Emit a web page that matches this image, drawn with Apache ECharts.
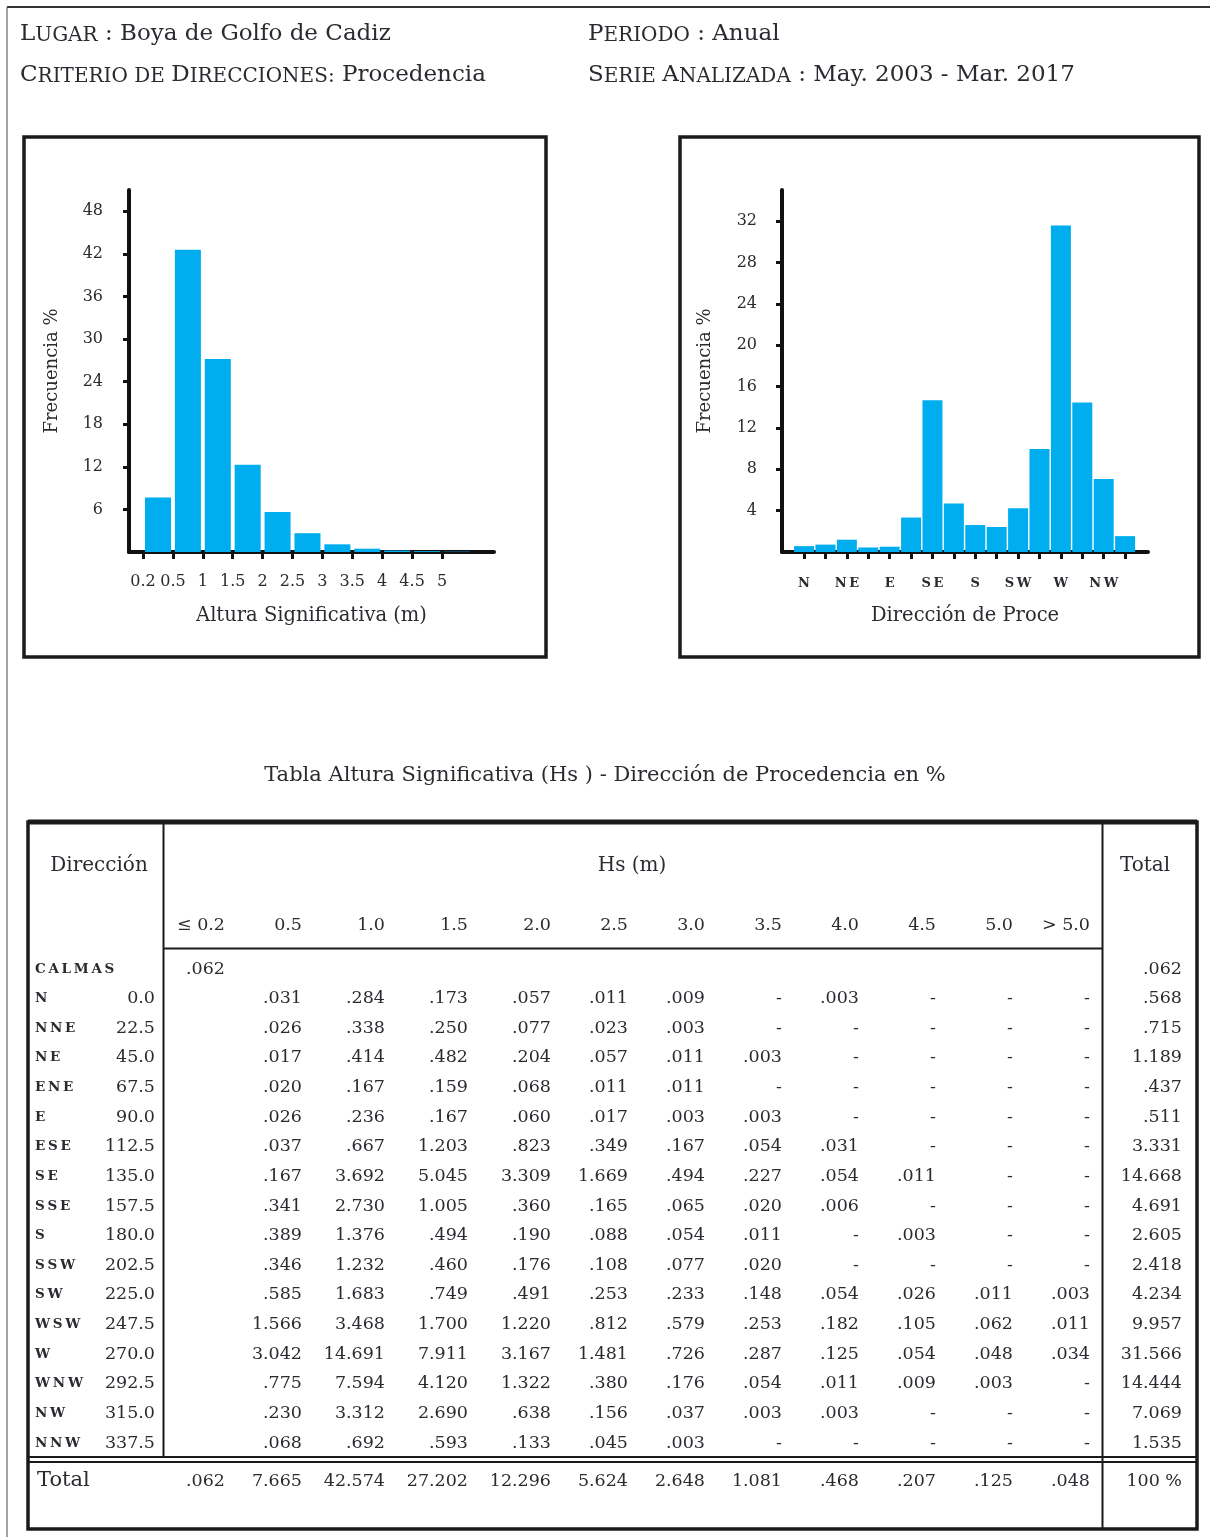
<!DOCTYPE html>
<html><head><meta charset="utf-8">
<script src="https://cdn.jsdelivr.net/npm/echarts@6/dist/echarts.min.js"></script>
<style>html,body{margin:0;padding:0;background:#fff}#c{width:1210px;height:1537px}</style>
</head><body><div id="c"></div>
<script>
// ---------------- DATA ----------------
const hsClassLabels = ['≤ 0.2','0.5','1.0','1.5','2.0','2.5','3.0','3.5','4.0','4.5','5.0','> 5.0'];
const hsTickLabels = ['0.2','0.5','1','1.5','2','2.5','3','3.5','4','4.5','5'];
const histYTicks = [6,12,18,24,30,36,42,48];
const dirNames = ['N','NNE','NE','ENE','E','ESE','SE','SSE','S','SSW','SW','WSW','W','WNW','NW','NNW'];
const dirAngles = ['0.0','22.5','45.0','67.5','90.0','112.5','135.0','157.5','180.0','202.5','225.0','247.5','270.0','292.5','315.0','337.5'];
const dirTickLabels = ['N','','NE','','E','','SE','','S','','SW','','W','','NW',''];
const dirYTicks = [4,8,12,16,20,24,28,32];
const calmasValue = 0.062;
// cells for classes 0.5 .. > 5.0 (0 printed as '-')
const rowN   = [.031,.284,.173,.057,.011,.009,0,.003,0,0,0];
const rowNNE = [.026,.338,.250,.077,.023,.003,0,0,0,0,0];
const rowNE  = [.017,.414,.482,.204,.057,.011,.003,0,0,0,0];
const rowENE = [.020,.167,.159,.068,.011,.011,0,0,0,0,0];
const rowE   = [.026,.236,.167,.060,.017,.003,.003,0,0,0,0];
const rowESE = [.037,.667,1.203,.823,.349,.167,.054,.031,0,0,0];
const rowSE  = [.167,3.692,5.045,3.309,1.669,.494,.227,.054,.011,0,0];
const rowSSE = [.341,2.730,1.005,.360,.165,.065,.020,.006,0,0,0];
const rowS   = [.389,1.376,.494,.190,.088,.054,.011,0,.003,0,0];
const rowSSW = [.346,1.232,.460,.176,.108,.077,.020,0,0,0,0];
const rowSW  = [.585,1.683,.749,.491,.253,.233,.148,.054,.026,.011,.003];
const rowWSW = [1.566,3.468,1.700,1.220,.812,.579,.253,.182,.105,.062,.011];
const rowW   = [3.042,14.691,7.911,3.167,1.481,.726,.287,.125,.054,.048,.034];
const rowWNW = [.775,7.594,4.120,1.322,.380,.176,.054,.011,.009,.003,0];
const rowNW  = [.230,3.312,2.690,.638,.156,.037,.003,.003,0,0,0];
const rowNNW = [.068,.692,.593,.133,.045,.003,0,0,0,0,0];
const dirTotals = [.568,.715,1.189,.437,.511,3.331,14.668,4.691,2.605,2.418,4.234,9.957,31.566,14.444,7.069,1.535];
const hsTotals = [.062,7.665,42.574,27.202,12.296,5.624,2.648,1.081,.468,.207,.125,.048];

const tableRows = [rowN,rowNNE,rowNE,rowENE,rowE,rowESE,rowSE,rowSSE,rowS,rowSSW,rowSW,rowWSW,rowW,rowWNW,rowNW,rowNNW];

// ---------------- STYLE / LAYOUT ----------------
const FONT = "'DejaVu Serif','Liberation Serif',serif";
const INK = '#2b2a30';
const BAR = '#00AEEF';
const NUM = 17.5;
const fmt = v => v === 0 ? '-' : (v < 1 ? v.toFixed(3).slice(1) : v.toFixed(3));
const spaced = s => s.split('').join('\u2009');

// column right edges (LaTeX-like: wider pitch for columns holding 6-char entries)
const colRight = [];
(function(){
  let x = 225; colRight.push(x);
  for (let j = 1; j < hsClassLabels.length; j++) {
    let maxLen = fmt(hsTotals[j]).length;
    tableRows.forEach(r => { maxLen = Math.max(maxLen, fmt(r[j-1]).length); });
    x += maxLen >= 6 ? 83 : 77;
    colRight.push(x);
  }
})();
const totalRight = 1182;
const rowY0 = 969, rowStep = 29.625;

const G = [];
function txt(x, y, text, opt) {
  opt = opt || {};
  G.push({type:'text', x, y, z: 10, style: Object.assign({
    text, fill: INK, fontFamily: FONT, fontSize: opt.size || 20,
    fontWeight: opt.weight || 'normal',
    align: opt.align || 'left', verticalAlign: 'middle'
  }, opt.rich ? {rich: opt.rich} : {})});
}
function line(x1, y1, x2, y2, w, c) {
  G.push({type:'line', z: 5, shape:{x1,y1,x2,y2}, style:{stroke: c || '#1a1a1a', lineWidth: w}});
}
function rect(x, y, w, h, lw) {
  G.push({type:'rect', z: 5, shape:{x, y, width:w, height:h}, style:{fill:'none', stroke:'#1a1a1a', lineWidth: lw}});
}

// page frame
line(7, 7, 1210, 7, 2, '#333');
line(7, 7, 7, 1537, 1.2, '#666');

// header (small caps via rich text)
const rich = {
  c: {fontSize: 23, fontFamily: FONT, fill: INK, verticalAlign: 'bottom'},
  s: {fontSize: 20, fontFamily: FONT, fill: INK, verticalAlign: 'bottom'}
};
txt(20, 34, '{c|L}{s|UGAR}{c| : Boya de Golfo de Cadiz}', {rich});
txt(20, 75, '{c|C}{s|RITERIO DE }{c|D}{s|IRECCIONES:}{c| Procedencia}', {rich});
txt(588, 34, '{c|P}{s|ERIODO}{c| : Anual}', {rich});
txt(588, 75, '{c|S}{s|ERIE }{c|A}{s|NALIZADA}{c| : May. 2003 - Mar. 2017}', {rich});

// chart boxes
rect(24, 137, 522, 520, 3.5);
rect(680, 137, 519, 520, 3.5);

// table title
txt(605, 776, 'Tabla Altura Significativa (Hs ) - Dirección de Procedencia en %', {size: 21, align: 'center'});

// table frame
rect(28, 822, 1169, 707, 3.5);
line(28, 822, 1197, 822, 5);
line(163.5, 823, 163.5, 1457, 2);
line(1102.5, 823, 1102.5, 1529, 2);
line(163, 948.5, 1102, 948.5, 2);
line(28, 1457, 1197, 1457, 1.8);
line(28, 1462, 1197, 1462, 1.8);

// table headers
txt(99, 866, 'Dirección', {size: 20, align: 'center'});
txt(632, 866, 'Hs (m)', {size: 20, align: 'center'});
txt(1145, 866, 'Total', {size: 20, align: 'center'});
hsClassLabels.forEach((l, j) => txt(colRight[j], 925, l, {size: NUM, align: 'right'}));

// calmas row
txt(35, rowY0, spaced('CALMAS'), {size: 13.5, weight: 'bold'});
txt(colRight[0], rowY0, fmt(calmasValue), {size: NUM, align: 'right'});
txt(totalRight, rowY0, fmt(calmasValue), {size: NUM, align: 'right'});
// direction rows
tableRows.forEach((r, i) => {
  const y = rowY0 + (i + 1) * rowStep;
  txt(35, y, spaced(dirNames[i]), {size: 13.5, weight: 'bold'});
  txt(155, y, dirAngles[i], {size: NUM, align: 'right'});
  r.forEach((v, j) => txt(colRight[j + 1], y, fmt(v), {size: NUM, align: 'right'}));
  txt(totalRight, y, fmt(dirTotals[i]), {size: NUM, align: 'right'});
});
// total row
txt(37, 1481, 'Total', {size: 21});
hsTotals.forEach((v, j) => txt(colRight[j], 1481, fmt(v), {size: NUM, align: 'right'}));
txt(totalRight, 1481, '100 %', {size: NUM, align: 'right'});

// ---------------- CHARTS ----------------
const axisLineStyle = {show: true, onZero: false, lineStyle: {color: '#111', width: 4}};
const tickStyle = {color: '#111', width: 3};
const lblStyle = {fontFamily: FONT, color: INK};

const chart = echarts.init(document.getElementById('c'), null, {renderer: 'canvas'});
chart.setOption({
  animation: false,
  backgroundColor: '#fff',
  grid: [
    {left: 129, top: 190, width: 365, height: 362},
    {left: 782, top: 190, width: 366, height: 362}
  ],
  xAxis: [
    {
      type: 'value', gridIndex: 0, min: -0.47, max: 11.74,
      axisLine: axisLineStyle,
      axisTick: {show: true, customValues: hsTickLabels.map((_, i) => i), length: 7, lineStyle: tickStyle},
      axisLabel: Object.assign({customValues: hsTickLabels.map((_, i) => i), formatter: v => hsTickLabels[Math.round(v)], margin: 22, fontSize: 16}, lblStyle),
      splitLine: {show: false},
      name: 'Altura Significativa (m)', nameLocation: 'middle', nameGap: 54,
      nameTextStyle: {fontFamily: FONT, fontSize: 19.5, color: INK}
    },
    {
      type: 'value', gridIndex: 1, min: -1.03, max: 16.07,
      axisLine: axisLineStyle,
      axisTick: {show: true, customValues: dirNames.map((_, i) => i), length: 7, lineStyle: tickStyle},
      axisLabel: Object.assign({customValues: dirNames.map((_, i) => i).filter(i => dirTickLabels[i]), formatter: v => spaced(dirTickLabels[Math.round(v)]), margin: 25, fontSize: 13, fontWeight: 'bold'}, lblStyle),
      splitLine: {show: false},
      name: 'Dirección de Proce', nameLocation: 'middle', nameGap: 54,
      nameTextStyle: {fontFamily: FONT, fontSize: 19.5, color: INK}
    }
  ],
  yAxis: [
    {
      type: 'value', gridIndex: 0, min: 0, max: 51,
      axisLine: axisLineStyle,
      axisTick: {show: true, customValues: histYTicks, length: 6, lineStyle: tickStyle},
      axisLabel: Object.assign({customValues: histYTicks, margin: 26, fontSize: 16}, lblStyle),
      splitLine: {show: false},
      name: 'Frecuencia %', nameLocation: 'middle', nameGap: 68, nameRotate: 90,
      nameTextStyle: {fontFamily: FONT, fontSize: 18, color: INK}
    },
    {
      type: 'value', gridIndex: 1, min: 0, max: 35,
      axisLine: axisLineStyle,
      axisTick: {show: true, customValues: dirYTicks, length: 6, lineStyle: tickStyle},
      axisLabel: Object.assign({customValues: dirYTicks, margin: 25, fontSize: 16}, lblStyle),
      splitLine: {show: false},
      name: 'Frecuencia %', nameLocation: 'middle', nameGap: 68, nameRotate: 90,
      nameTextStyle: {fontFamily: FONT, fontSize: 18, color: INK}
    }
  ],
  series: [
    {
      type: 'bar', xAxisIndex: 0, yAxisIndex: 0, barWidth: 26,
      itemStyle: {color: BAR},
      data: hsTotals.slice(1).map((v, i) => [i + 0.5, v])
    },
    {
      type: 'bar', xAxisIndex: 1, yAxisIndex: 1, barWidth: 20,
      itemStyle: {color: BAR},
      data: dirTotals.map((v, i) => [i, v])
    }
  ],
  graphic: {elements: G}
});
</script>
</body></html>
